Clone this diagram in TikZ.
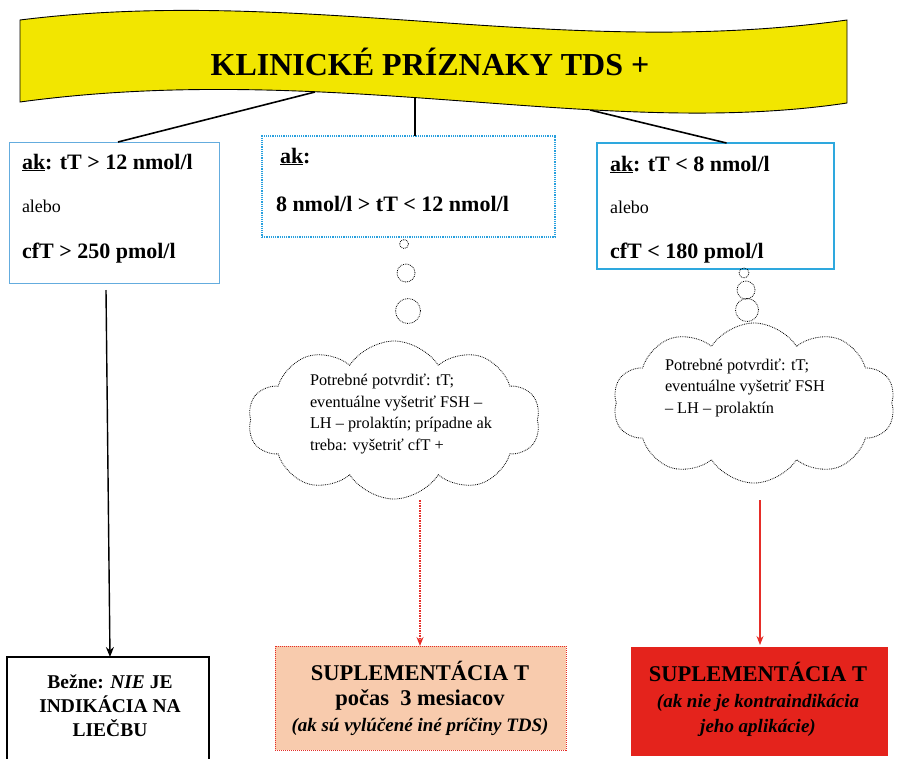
\documentclass[tikz,border=0pt]{standalone}
\usepackage{fontspec}
\setmainfont{Liberation Serif}[
  BoldFont={Liberation Serif Bold},
  ItalicFont={Liberation Serif Italic},
  BoldItalicFont={Liberation Serif Bold Italic}]
\usepackage{xcolor}
\usetikzlibrary{shapes.symbols}
\usetikzlibrary{arrows.meta}
\usetikzlibrary{calc}

\definecolor{tdsyellow}{RGB}{242,230,0}
\definecolor{thinblue}{RGB}{100,172,222}
\definecolor{dotblue}{RGB}{40,160,222}
\definecolor{thickblue}{RGB}{46,168,222}
\definecolor{peach}{RGB}{248,203,173}
\definecolor{therapyred}{RGB}{228,35,28}
\definecolor{arrowred}{RGB}{230,45,40}

\begin{document}
\begin{tikzpicture}[x=1pt,y=-1pt,
      every node/.style={inner sep=0pt,outer sep=0pt},
      condbox/.style={rectangle,anchor=north west},
      bigtxt/.style={anchor=base west,font=\fontsize{22}{26}\selectfont\bfseries},
      smalltxt/.style={anchor=base west,font=\fontsize{18}{22}\selectfont},
      cloudtxt/.style={anchor=base west,align=left,font=\fontsize{16.3}{21.5}\selectfont},
      bubble/.style={circle,draw,densely dotted,line width=0.8pt},
      thought/.style={cloud,draw,densely dotted,line width=0.8pt,cloud ignores aspect},
      resbox/.style={rectangle,anchor=north west},
      restxt/.style={align=center,font=\fontsize{22.5}{25}\selectfont\bfseries}]

      \useasboundingbox (0,0) rectangle (899,758);

      % conditions
      \node[condbox,draw=thinblue,line width=0.9pt,minimum width=210,minimum height=141] (boxL) at (9,142) {};
      \node[condbox,draw=dotblue,densely dotted,line width=1.2pt,minimum width=293,minimum height=101] (boxM) at (262,136) {};
      \node[condbox,draw=thickblue,line width=2.4pt,minimum width=237,minimum height=126] (boxR) at (597,143) {};

      \node[bigtxt] (akL) at (22,169) {\underline{ak}: tT > 12 nmol/l};
      \node[smalltxt] (orL) at (22,212) {alebo};
      \node[bigtxt] (cfL) at (22,258) {cfT > 250 pmol/l};

      \node[bigtxt] (akM) at (280,163) {\underline{ak}:};
      \node[bigtxt] (valM) at (276,211) {8 nmol/l > tT < 12 nmol/l};

      \node[bigtxt] (akR) at (610,171) {\underline{ak}: tT < 8 nmol/l};
      \node[smalltxt] (orR) at (610,213) {alebo};
      \node[bigtxt] (cfR) at (610,258) {cfT < 180 pmol/l};

      % banner
      \coordinate (bannerL) at (315,92);
      \coordinate (bannerM) at (415,96);
      \coordinate (bannerR) at (590,110);
      \draw[line width=1.6pt] (bannerL) -- ($(boxL.north)+(4,0)$);
      \draw[line width=1.2pt] (bannerM) -- (bannerM |- boxM.north);
      \draw[line width=1.6pt] (bannerR) -- ($(boxR.north)+(11,0)$);
      \draw[fill=tdsyellow,line width=0.9pt] (20,20) .. controls (300,-15) and (560,60) .. (847,20)
        -- (847,103) .. controls (600,140) and (330,60) .. (20,102) -- cycle;
      \node[font=\fontsize{32}{38}\selectfont\bfseries] (title) at (430,62) {KLINICKÉ PRÍZNAKY TDS +};

      % thoughts
      \node[bubble,minimum size=9] (bubM1) at (404,244) {};
      \node[bubble,minimum size=18] (bubM2) at (406,273) {};
      \node[bubble,minimum size=25] (bubM3) at (408,311) {};
      \node[thought,cloud puffs=10,cloud puff arc=115,minimum width=292,minimum height=158] (thinkM) at (394,420) {};
      \node[cloudtxt] (noteM) at (310,450) {Potrebné potvrdiť: tT;\\eventuálne vyšetriť FSH –\\LH – prolaktín; prípadne ak\\treba: vyšetriť cfT +};

      \node[bubble,minimum size=10] (bubR1) at (744,273) {};
      \node[bubble,minimum size=18] (bubR2) at (746,290) {};
      \node[bubble,minimum size=23] (bubR3) at (747,310) {};
      \node[thought,cloud puffs=10,cloud puff arc=115,minimum width=282,minimum height=160] (thinkR) at (754,403) {};
      \node[cloudtxt] (noteR) at (665,413) {Potrebné potvrdiť: tT;\\eventuálne vyšetriť FSH\\– LH – prolaktín};

      % results
      \node[resbox,draw=black,line width=1.3pt,minimum width=202,minimum height=120] (resL) at (7,657) {};
      \node[resbox,fill=peach,draw=arrowred,densely dotted,line width=1pt,minimum width=291,minimum height=104] (resM) at (275,646) {};
      \node[resbox,fill=therapyred,minimum width=257,minimum height=109] (resR) at (631,647) {};

      \node[restxt,font=\fontsize{19.5}{24}\selectfont\bfseries] (txtL) at (110,706) {Bežne: \textit{NIE} JE\\INDIKÁCIA NA\\LIEČBU};
      \node[restxt] (txtM) at (420,698) {SUPLEMENTÁCIA T\\počas\ \ 3 mesiacov\\[1pt]{\fontsize{19}{24}\selectfont\itshape (ak sú vylúčené iné príčiny TDS)}};
      \node[restxt] (txtR) at (758,699) {SUPLEMENTÁCIA T\\[1pt]{\fontsize{19}{25}\selectfont\itshape (ak nie je kontraindikácia}\\{\fontsize{19}{25}\selectfont\itshape jeho aplikácie)}};

      \coordinate (fromM) at (420,500);
      \coordinate (fromR) at (760,500);
      \draw[-{Stealth[length=10pt,width=8pt]},line width=1.4pt] ($(boxL.south)+(-8,7)$) -- (resL.north -| txtL.center);
      \draw[-{Stealth[length=9pt,width=7pt]},arrowred,densely dotted,line width=1.5pt] (fromM) -- (fromM |- resM.north);
      \draw[-{Stealth[length=9pt,width=7pt]},arrowred,line width=1.2pt] (fromR) -- ($(fromR |- resR.north)+(0,-2)$);
\end{tikzpicture}
\end{document}
